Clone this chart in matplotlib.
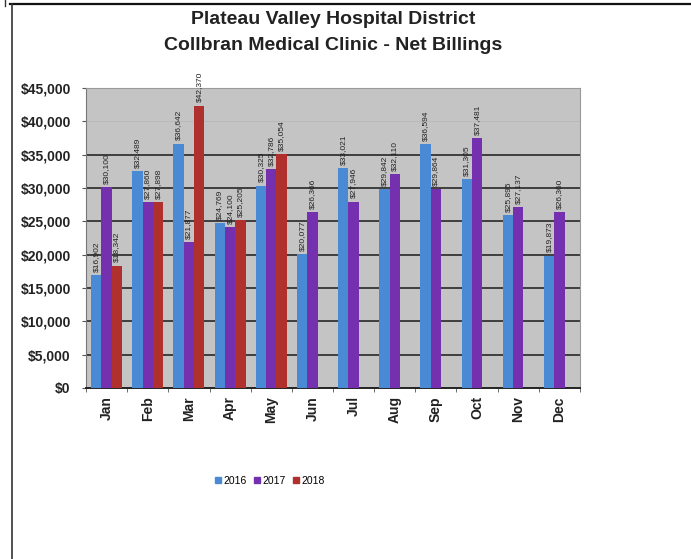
import matplotlib
matplotlib.use("Agg")
import matplotlib.pyplot as plt
import numpy as np
from matplotlib.lines import Line2D

plt.rcParams['font.family'] = ['Liberation Sans', 'DejaVu Sans']

months = ["Jan", "Feb", "Mar", "Apr", "May", "Jun", "Jul", "Aug", "Sep", "Oct", "Nov", "Dec"]
series_names = ["2016", "2017", "2018"]
v2016 = [16902, 32489, 36642, 24769, 30325, 20077, 33021, 29842, 36594, 31305, 25895, 19873]
v2017 = [30100, 27860, 21877, 24100, 32786, 26366, 27946, 32110, 29864, 37481, 27137, 26360]
v2018 = [18342, 27898, 42370, 25205, 35054]
yticks = [0, 5000, 10000, 15000, 20000, 25000, 30000, 35000, 40000, 45000]

colors = ["#4A8AD4", "#7430AE", "#B0302E"]

fig = plt.figure(figsize=(6.91, 5.59), dpi=100)
ax = fig.add_axes([86/691, 1-388/559, 494/691, 300/559])
ax.set_facecolor("#C4C4C4")

x = np.arange(len(months))
w = 0.25
for i, (vals, name) in enumerate(zip([v2016, v2017, v2018], series_names)):
    xs = x[:len(vals)] + (i - 1) * w
    ax.bar(xs, vals, width=w, color=colors[i], label=name, zorder=3)
    for xi, v in zip(xs, vals):
        ax.text(xi, v + 500, "${:,}".format(v), rotation=90, ha="center", va="bottom",
                fontsize=6, color="#222222", zorder=4, clip_on=False)

ax.set_xlim(-0.5, 11.5)
ax.set_ylim(0, 45000)
ax.set_yticks(yticks)
ax.set_yticklabels(["${:,}".format(t) for t in yticks], fontsize=10, fontweight="bold",
                   color="#222222")
for t in yticks[1:-2]:
    ax.axhline(t, color="#333333", lw=1.3, zorder=2)
ax.axhline(40000, color="#B8B8B8", lw=0.6, zorder=2)

ax.set_xticks(x)
ax.set_xticklabels(months, rotation=90, fontsize=10, fontweight="bold", color="#222222")
ax.tick_params(axis="x", length=0, pad=6)
ax.set_xticks(np.arange(-0.5, 12, 1), minor=True)
ax.tick_params(axis="x", which="minor", length=3, color="#555555")
ax.tick_params(axis="y", length=3, color="#555555", pad=8)

for s in ["top", "right"]:
    ax.spines[s].set_color("#9A9A9A")
    ax.spines[s].set_linewidth(0.8)
ax.spines["left"].set_color("#777777")
ax.spines["bottom"].set_color("#222222")
ax.spines["bottom"].set_linewidth(1.4)

fig.text(333/691, 1-20/559, "Plateau Valley Hospital District", ha="center", va="center",
         fontsize=14, fontweight="bold", color="#222222")
fig.text(333/691, 1-45/559, "Collbran Medical Clinic - Net Billings", ha="center", va="center",
         fontsize=14, fontweight="bold", color="#222222")

handles = [Line2D([0], [0], marker="s", linestyle="none", markersize=4,
                  markerfacecolor=c, markeredgecolor=c) for c in colors]
fig.legend(handles, series_names, loc="center", bbox_to_anchor=(270/691, 1-481/559),
           ncol=3, frameon=False, fontsize=7.5, handlelength=0.6, handletextpad=0.2,
           columnspacing=0.7)

fig.add_artist(Line2D([10/691, 1], [1-4/559, 1-4/559], color="#111111", lw=1.6))
fig.add_artist(Line2D([12/691, 12/691], [0, 1-4/559], color="#333333", lw=1.2))
fig.add_artist(Line2D([5/691, 5/691], [1-6/559, 1], color="#333333", lw=1.0))

fig.savefig("out.png", dpi=100)
